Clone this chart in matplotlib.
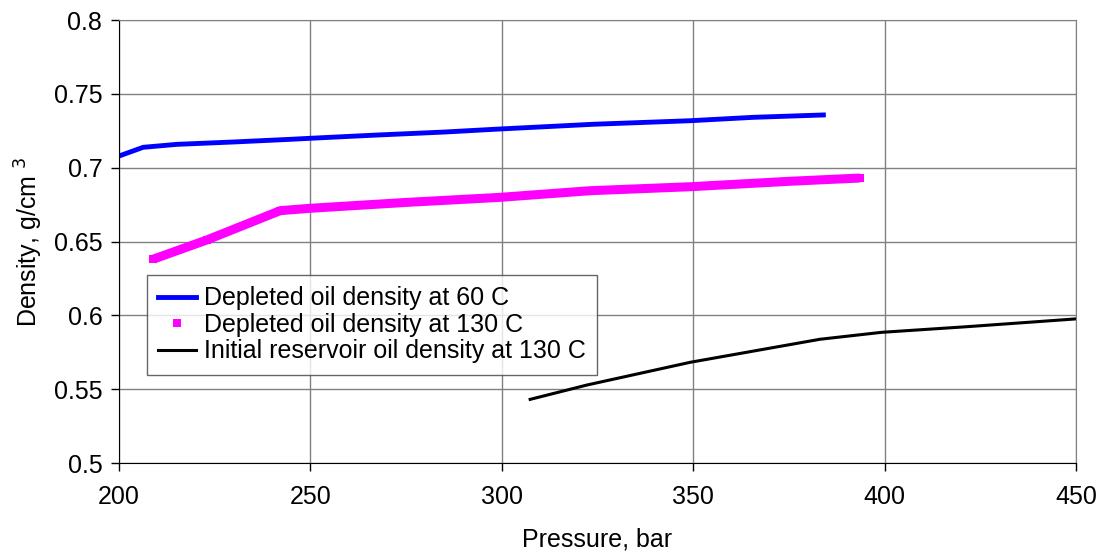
import matplotlib
matplotlib.use('Agg')
import matplotlib.pyplot as plt

plt.rcParams['font.family'] = ['Liberation Sans', 'DejaVu Sans']

# Depleted oil at 60 C
p_60 = [200.0, 206.3, 215.1, 229.9, 244.7, 249.9, 267.3, 284.7, 299.5, 323.9, 349.2, 365.7, 384.0]
rho_60 = [0.7079, 0.7138, 0.7158, 0.7174, 0.7192, 0.7199, 0.7221, 0.7241, 0.7262, 0.7294, 0.7318, 0.7341, 0.7357]

# Depleted oil at 130 C
p_130 = [209.0, 222.9, 242.1, 249.9, 275.2, 299.5, 323.0, 349.2, 375.3, 393.6]
rho_130 = [0.6381, 0.6510, 0.6709, 0.6725, 0.6765, 0.6799, 0.6844, 0.6871, 0.6908, 0.6930]

# Initial reservoir oil at 130 C
p_init = [307.4, 322.2, 349.2, 383.1, 399.2, 421.4, 450.0]
rho_init = [0.5431, 0.5528, 0.5682, 0.5838, 0.5885, 0.5923, 0.5976]

fig = plt.figure(figsize=(10.99, 5.59), dpi=100)
ax = fig.add_axes([0.1083, 0.1717, 0.8708, 0.7925])

ax.plot(p_60, rho_60, color='#0000ff', lw=3.5, label='Depleted oil density at 60 C')
ax.plot(p_130, rho_130, color='#ff00ff', lw=6.5, solid_capstyle='butt')
ax.plot(p_130, rho_130, color='#ff00ff', ls='none', marker='s', ms=6, mew=0,
        label='Depleted oil density at 130 C')
ax.plot(p_init, rho_init, color='black', lw=2.2, label='Initial reservoir oil density at 130 C')

ax.set_xlim(200, 450)
ax.set_ylim(0.5, 0.8)
ax.set_xticks([200, 250, 300, 350, 400, 450])
ax.set_yticks([0.5, 0.55, 0.6, 0.65, 0.7, 0.75, 0.8])
ax.set_yticklabels(['0.5', '0.55', '0.6', '0.65', '0.7', '0.75', '0.8'])
ax.grid(True, color='#808080', lw=1)
ax.set_axisbelow(True)
for side in ['top', 'right']:
    ax.spines[side].set_color('#808080')
for side in ['left', 'bottom']:
    ax.spines[side].set_color('black')
ax.tick_params(direction='out', length=6, width=1, labelsize=18)
ax.tick_params(axis='x', pad=10)
ax.tick_params(axis='y', pad=6)

ax.set_xlabel('Pressure, bar', fontsize=18, labelpad=13)
ax.set_ylabel('Density, g/cm $^3$', fontsize=18, labelpad=6)

leg = ax.legend(loc='upper left', bbox_to_anchor=(0.029, 0.424), borderaxespad=0,
                fontsize=18, frameon=True, fancybox=False, handlelength=1.5,
                handletextpad=0.35, labelspacing=0.1, borderpad=0.45)
leg.get_frame().set_edgecolor('#404040')
leg.get_frame().set_linewidth(1)

fig.savefig('out.png', dpi=100)
